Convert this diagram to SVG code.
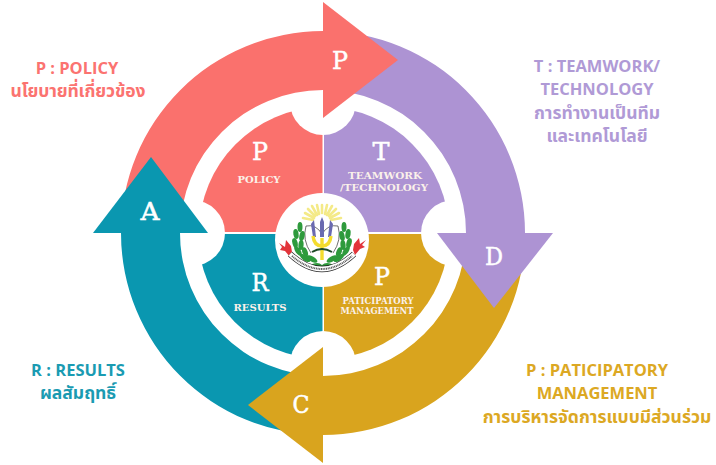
<svg xmlns="http://www.w3.org/2000/svg" width="716" height="465" viewBox="0 0 716 465">
<style>
.lab{font-family:"Open Sans","Noto Sans","Noto Sans Thai",sans-serif;font-weight:700;text-anchor:middle;font-size:16.5px}
.th{font-size:17.5px}
.coral{fill:#fb7370}.purple{fill:#b09ad6}.gold{fill:#dca823}.teal{fill:#1a9bb2}
.big{font-family:"DejaVu Serif","Liberation Serif",serif;font-weight:400;font-size:24px;fill:#fff;stroke:#fff;stroke-width:.5px;text-anchor:middle}
.sm{font-family:"DejaVu Serif","Liberation Serif",serif;font-weight:700;font-size:10px;fill:#fbf1ea;text-anchor:middle}
.leaf{fill:#2e9a3c}
.ray{stroke:#f4ea88;stroke-width:2.6;stroke-linecap:round;fill:none}
</style>
<rect width="716" height="465" fill="#fff"/>
<g id="petal-policy">
<path d="M322.5 232 H199 A126 126 0 0 1 322.5 107 Z" fill="#fa716d"/>
</g>
<g id="petal-teamwork">
<path d="M324 232 V107 A126 126 0 0 1 449 232 Z" fill="#ad93d3"/>
</g>
<g id="petal-participatory">
<path d="M324 234 H449 A126 126 0 0 1 324 359 Z" fill="#d9a41e"/>
</g>
<g id="petal-results">
<path d="M322.5 234 V359 A126 126 0 0 1 198 234 Z" fill="#0a97b0"/>
</g>
<g id="notch-overlay" fill="#fff">
<circle cx="323" cy="102" r="33"/><circle cx="454" cy="233" r="33"/><circle cx="323" cy="364" r="33"/><circle cx="192" cy="233" r="33"/>
</g>
<g id="connectors">
<path d="M323 31 A202 202 0 0 0 121 233 H180 A143 143 0 0 1 323 90 Z" fill="#fa716d"/>
<path d="M323 31 A202 202 0 0 1 525 233 H466 A143 143 0 0 0 323 90 Z" fill="#ad93d3"/>
<path d="M525 233 A202 202 0 0 1 323 435 V376 A143 143 0 0 0 466 233 Z" fill="#d9a41e"/>
<path d="M323 435 A202 202 0 0 1 121 233 H180 A143 143 0 0 0 323 376 Z" fill="#0a97b0"/>
<polygon points="323,2 398,60 323,118" fill="#fa716d"/>
<polygon points="553,233 494,308 437,233" fill="#ad93d3"/>
<polygon points="323,463 248,405 323,347" fill="#d9a41e"/>
<polygon points="93,233 151,157 208,233" fill="#0a97b0"/>
</g>
<g id="arrow-letters">
<text class="big" x="340" y="69" textLength="16" lengthAdjust="spacingAndGlyphs">P</text>
<text class="big" x="494" y="265" textLength="18" lengthAdjust="spacingAndGlyphs">D</text>
<text class="big" x="301" y="413" textLength="17" lengthAdjust="spacingAndGlyphs">C</text>
<text class="big" x="150" y="220" textLength="19" lengthAdjust="spacingAndGlyphs">A</text>
</g>
<g id="node-policy">
<text class="big" x="260" y="160" textLength="16" lengthAdjust="spacingAndGlyphs">P</text>
<text class="sm" x="259" y="183" textLength="43" lengthAdjust="spacingAndGlyphs">POLICY</text>
</g>
<g id="node-teamwork">
<text class="big" x="381" y="160" textLength="17" lengthAdjust="spacingAndGlyphs">T</text>
<text class="sm" x="385" y="179" textLength="74" lengthAdjust="spacingAndGlyphs">TEAMWORK</text>
<text class="sm" x="384" y="191" textLength="88" lengthAdjust="spacingAndGlyphs">/TECHNOLOGY</text>
</g>
<g id="node-participatory">
<text class="big" x="382" y="285" textLength="16" lengthAdjust="spacingAndGlyphs">P</text>
<text class="sm" x="378" y="304" textLength="71" lengthAdjust="spacingAndGlyphs" style="font-size:9px">PATICIPATORY</text>
<text class="sm" x="377" y="314" textLength="73" lengthAdjust="spacingAndGlyphs" style="font-size:9px">MANAGEMENT</text>
</g>
<g id="node-results">
<text class="big" x="260" y="291" textLength="17" lengthAdjust="spacingAndGlyphs">R</text>
<text class="sm" x="260" y="311" textLength="53" lengthAdjust="spacingAndGlyphs">RESULTS</text>
</g>
<g id="emblem">
<circle cx="322" cy="240" r="47" fill="#fff"/>
<g class="ray" transform="translate(322 220)">
<path d="M0 -7V-15M-3 -6L-5 -15M3 -6L5 -15M-5 -5L-10 -14M5 -5L10 -14M-7 -4L-14 -11M7 -4L14 -11M-8 -2L-17 -7M8 -2L17 -7M-9 0L-19 -2M9 0L19 -2"/>
</g>
<path d="M306 226 Q302 240 311 253 M338 226 Q342 240 333 253 M306 226 Q316 224 322 234 Q328 224 338 226" fill="none" stroke="#333" stroke-width="0.7"/>
<g fill="#6a6ab0">
<path d="M311 224 L314 220 L316 237 L313 237Z"/><path d="M320 222 L322 217 L324 222 L324 237 L320 237Z"/><path d="M330 220 L333 224 L331 237 L328 237Z"/>
</g>
<path d="M322 238V260M313 236Q314 246 322 246Q330 246 331 236" fill="none" stroke="#f4dc2e" stroke-width="3.4"/>
<path d="M312 252Q322 246 332 252" fill="none" stroke="#1d4a25" stroke-width="2"/>
<g class="leaf">
<ellipse cx="300" cy="227" rx="2.5" ry="5"/><ellipse cx="296" cy="234" rx="2.6" ry="5" transform="rotate(-8 296 234)"/><ellipse cx="302" cy="236" rx="2.6" ry="5" transform="rotate(12 302 236)"/><ellipse cx="295" cy="243" rx="2.6" ry="5" transform="rotate(-15 295 243)"/><ellipse cx="301" cy="245" rx="2.6" ry="5" transform="rotate(5 301 245)"/><ellipse cx="298" cy="251" rx="2.6" ry="5.5" transform="rotate(-35 298 251)"/><ellipse cx="305" cy="252" rx="2.6" ry="5" transform="rotate(-20 305 252)"/><ellipse cx="305" cy="258" rx="2.6" ry="6" transform="rotate(-55 305 258)"/><ellipse cx="312" cy="259" rx="2.6" ry="6" transform="rotate(-60 312 259)"/>
<ellipse cx="344" cy="227" rx="2.5" ry="5"/><ellipse cx="348" cy="234" rx="2.6" ry="5" transform="rotate(8 348 234)"/><ellipse cx="342" cy="236" rx="2.6" ry="5" transform="rotate(-12 342 236)"/><ellipse cx="349" cy="243" rx="2.6" ry="5" transform="rotate(15 349 243)"/><ellipse cx="343" cy="245" rx="2.6" ry="5" transform="rotate(-5 343 245)"/><ellipse cx="346" cy="251" rx="2.6" ry="5.5" transform="rotate(35 346 251)"/><ellipse cx="339" cy="252" rx="2.6" ry="5" transform="rotate(20 339 252)"/><ellipse cx="339" cy="258" rx="2.6" ry="6" transform="rotate(55 339 258)"/><ellipse cx="332" cy="259" rx="2.6" ry="6" transform="rotate(60 332 259)"/>
<path d="M307 267Q317 260 322 265Q327 260 337 267Q327 270 322 267Q317 270 307 267Z"/>
</g>
<path d="M279 243 L285 247 L286 240 L291 246 L292 252 L290 257 L285 251 L280 250 L282 247Z" fill="#e2343a"/>
<path d="M366 240 L360 244 L359 238 L354 244 L353 250 L355 255 L360 249 L365 247 L362 245Z" fill="#e2343a"/>
<path d="M290 254 Q322 284 354 254" fill="none" stroke="#222" stroke-width="6"/>
<path d="M290 254 Q322 284 354 254" fill="none" stroke="#fff" stroke-width="4.8"/>
<path d="M292 256 Q322 282 352 256" fill="none" stroke="#555" stroke-width="2" stroke-dasharray="1 0.7"/>
</g>
<g id="label-policy">
<text class="lab coral" x="77" y="74">P : POLICY</text>
<text class="lab th coral" x="78" y="97" textLength="135">นโยบายที่เกี่ยวข้อง</text>
</g>
<g id="label-teamwork">
<text class="lab purple" x="597" y="72">T : TEAMWORK/</text>
<text class="lab purple" x="597" y="95">TECHNOLOGY</text>
<text class="lab th purple" x="597" y="119">การทำงานเป็นทีม</text>
<text class="lab th purple" x="597" y="142">และเทคโนโลยี</text>
</g>
<g id="label-participatory">
<text class="lab gold" x="597" y="376">P : PATICIPATORY</text>
<text class="lab gold" x="597" y="399">MANAGEMENT</text>
<text class="lab th gold" x="597" y="423">การบริหารจัดการแบบมีส่วนร่วม</text>
</g>
<g id="label-results">
<text class="lab teal" x="78" y="376">R : RESULTS</text>
<text class="lab th teal" x="78" y="399">ผลสัมฤทธิ์</text>
</g>
</svg>
